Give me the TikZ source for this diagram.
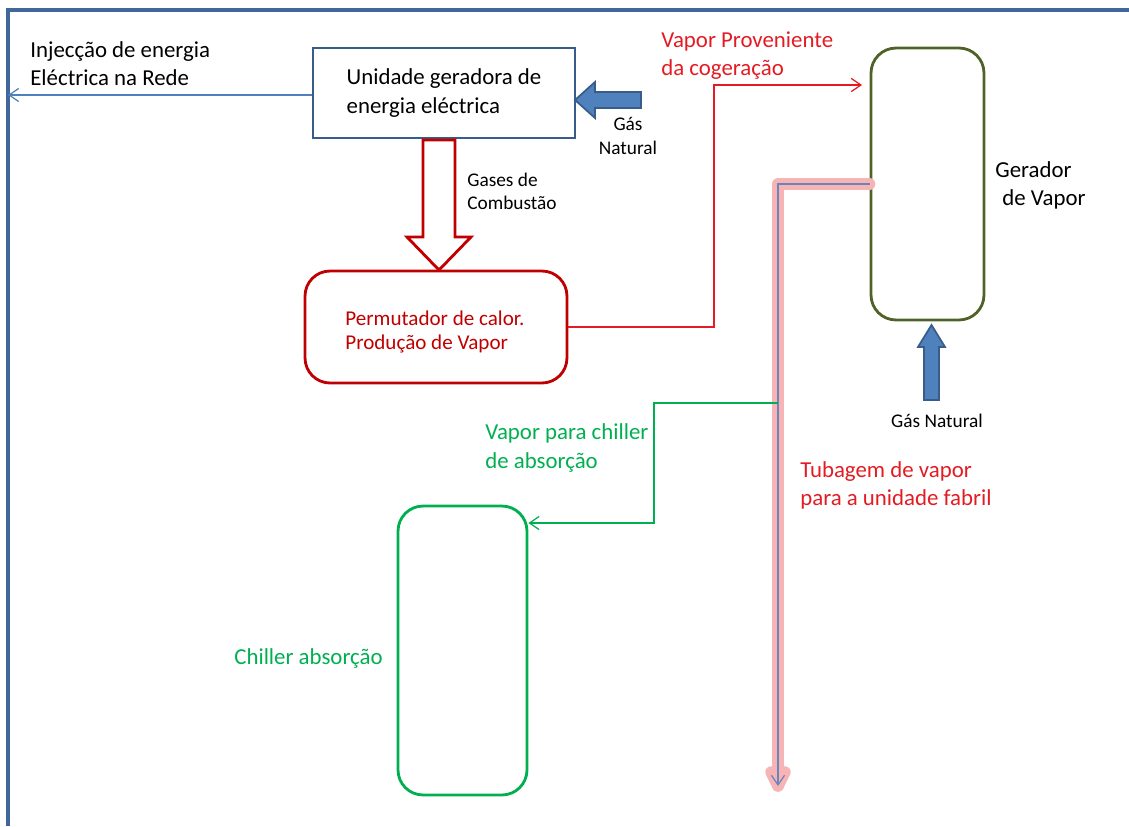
\documentclass[tikz,border=0pt]{standalone}
\usepackage{fontspec}
\setmainfont{Carlito}
\usetikzlibrary{arrows.meta}
\usetikzlibrary{positioning}
\usetikzlibrary{calc}
\definecolor{frameblue}{HTML}{41679A}
\definecolor{boxblue}{HTML}{385D8A}
\definecolor{lineblue}{HTML}{4F81BD}
\definecolor{pipeblue}{HTML}{6A85BE}
\definecolor{darkred}{HTML}{C00000}
\definecolor{brightred}{HTML}{E31B23}
\definecolor{chgreen}{HTML}{00B050}
\definecolor{olive}{HTML}{4F6228}
\definecolor{glow}{HTML}{F6B4B4}
\newcommand{\bigtxt}{\fontsize{13}{16}\selectfont}
\newcommand{\smalltxt}{\fontsize{11}{13.2}\selectfont}
\newcommand{\midtxt}{\fontsize{12}{13.2}\selectfont}

\begin{document}
\begin{tikzpicture}[x=0.02cm,y=-0.02cm,>={Straight Barb[length=5.5pt,width=7.5pt]}]
				\tikzset{box/.style = {shape=rectangle, draw, line width=1.6pt, inner sep=0pt},
					roundbox/.style = {box, rounded corners=0.5cm},
					txt/.style = {inner sep=0pt, align=left, anchor=west, font=\bigtxt},
					smalltxt/.style = {txt, font=\smalltxt},
					thinline/.style = {line width=0.7pt},
					glowline/.style = {glow, line width=6.5pt, line cap=round, line join=round},
					blockarrow/.style = {line width=1pt, line join=miter}}
				\useasboundingbox (0,0) rectangle (1129,826);
				\draw[frameblue, line width=1.8pt] (1129,10) -- (8,10) -- (8,826);
				
				\node[box, draw=boxblue, minimum width=5.24cm, minimum height=1.8cm] (UNIT) at (444,93) {};
				\node[txt, anchor=center] (UNITTXT) at (UNIT.center) {Unidade geradora de \\ energia eléctrica};
				\node[roundbox, draw=darkred, minimum width=5.24cm, minimum height=2.24cm] (PERM) at (436,327) {};
				\node[txt, font=\midtxt, anchor=west, text=darkred] (PERMTXT) at (345,332) {Permutador de calor. \\ Produção de Vapor};
				\node[roundbox, draw=olive, minimum width=2.26cm, minimum height=5.44cm] (GER) at (927.5,184) {};
				\node[roundbox, draw=chgreen, minimum width=2.58cm, minimum height=5.78cm] (CHILLER) at (462.5,650.5) {};
				
				\node[txt] (INJ) at (30,64) {Injecção de energia \\ Eléctrica na Rede};
				\node[smalltxt, align=center, anchor=center] (GASN1) at (628,136) {Gás \\ Natural};
				\node[smalltxt] (GASES) at (467,191) {Gases de \\ Combustão};
				\node[txt, text=brightred] (VPROV) at (661,56) {Vapor Proveniente \\ da cogeração};
				\node[txt] (GERTXT) at (995,185) {Gerador \\ \hspace*{4pt}de Vapor};
				\node[smalltxt, anchor=center] (GASN2) at (937,421) {Gás Natural};
				\node[txt, text=brightred] (TUB) at (800,485) {Tubagem de vapor \\ para a unidade fabril};
				\node[txt, text=chgreen] (VCH) at (485,448) {Vapor para chiller \\ de absorção};
				\node[txt, text=chgreen] (CHTXT) at (234,658) {Chiller absorção};
				
				\coordinate (GRID) at (8,95);
				\coordinate (TOGER) at (862,85);
				\coordinate (PIPEEND) at (778,786);
				\coordinate (BRANCH) at (778,403);
				
				\draw[->, lineblue, thinline] (UNIT.west |- GRID) -- (GRID);
				\draw[->, brightred, thinline] (PERM.east) -- (714,327) -- (714,85) -- (TOGER);
				\draw[glowline] (GER.west) -- (778,184) -- (PIPEEND);
				\draw[glowline] ($(PIPEEND)+(-7,-14)$) -- (PIPEEND) -- ($(PIPEEND)+(7,-14)$);
				\draw[->, pipeblue, thinline] (GER.west) -- (778,184) -- (PIPEEND);
				\draw[->, chgreen, thinline] (BRANCH) -- (654,403) -- (654,523) -- (CHILLER.east |- 0,523);
				
				\draw[blockarrow, draw=boxblue, fill=lineblue] (575,100) -- (595,82) -- (595,92) -- (641,92) -- (641,108) -- (595,108) -- (595,118) -- cycle;
				\draw[blockarrow, draw=darkred, fill=white, line width=1.6pt] (423,140) -- (455,140) -- (455,237) -- (471,237) -- (439,270) -- (407,237) -- (423,237) -- cycle;
				\draw[blockarrow, draw=boxblue, fill=lineblue] (931.5,325) -- (945,347) -- (939,347) -- (939,400) -- (924,400) -- (924,347) -- (918,347) -- cycle;
				
				\end{tikzpicture}
\end{document}
